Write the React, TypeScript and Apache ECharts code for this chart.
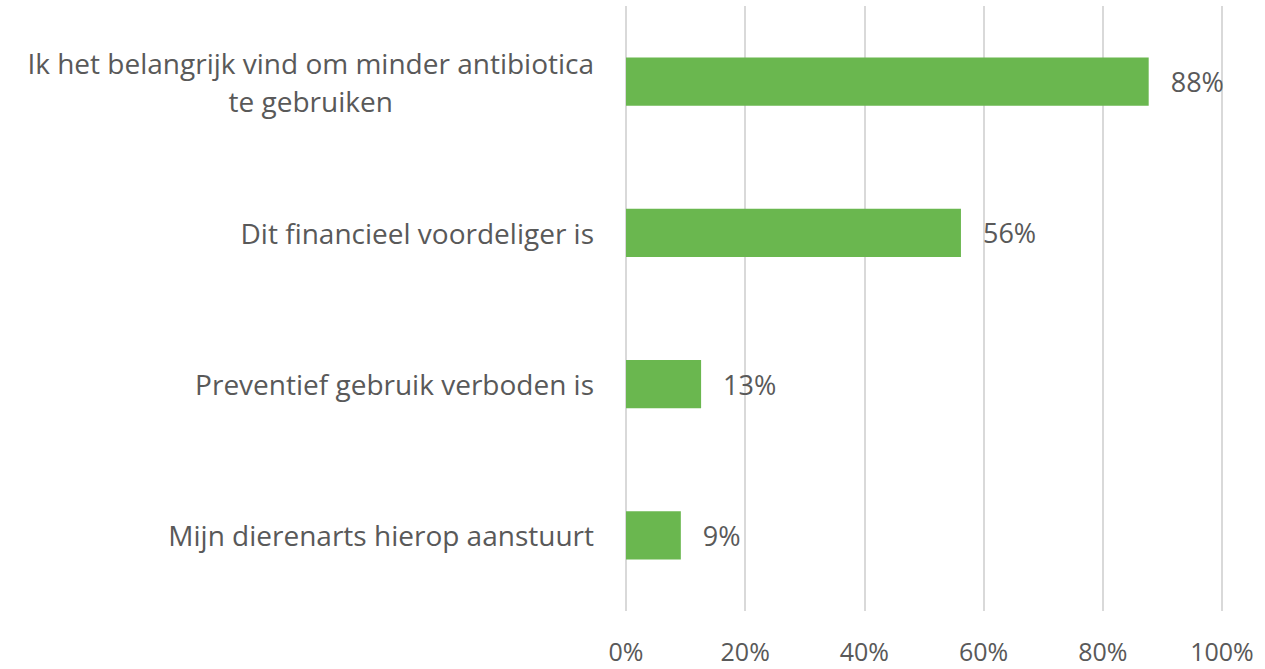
import React, { useEffect, useRef } from "react";
import * as echarts from "echarts";

const categories = [
  "Ik het belangrijk vind om minder antibiotica\nte gebruiken",
  "Dit financieel voordeliger is",
  "Preventief gebruik verboden is",
  "Mijn dierenarts hierop aanstuurt",
];
const values = [87.7, 56.2, 12.6, 9.2];
const xTicks = [0, 20, 40, 60, 80, 100];

export default function App() {
  const ref = useRef<HTMLDivElement>(null);
  useEffect(() => {
    const chart = echarts.init(ref.current!, null, { renderer: "svg" });
    const font = "'Open Sans', sans-serif";
    chart.setOption({
      animation: false,
      backgroundColor: "#ffffff",
      grid: { left: 626, right: 43, top: 6, bottom: 58, containLabel: false },
      xAxis: {
        type: "value",
        min: xTicks[0],
        max: xTicks[xTicks.length - 1],
        interval: 20,
        axisLine: { show: false },
        axisTick: { show: false },
        splitLine: { show: true, lineStyle: { color: "#d9d9d9", width: 2 } },
        axisLabel: {
          formatter: (v: number) => v + "%",
          color: "#595959",
          fontSize: 25,
          fontFamily: font,
          margin: 27,
        },
      },
      yAxis: {
        type: "category",
        data: categories,
        inverse: true,
        axisLine: { show: false },
        axisTick: { show: false },
        axisLabel: {
          color: "#595959",
          fontSize: 28,
          fontFamily: font,
          margin: 32,
          align: "right",
          lineHeight: 38,
          formatter: (v: string) =>
            v
              .split("\n")
              .map((s) => "{c|" + s + "}")
              .join("\n"),
          rich: {
            c: {
              align: "center",
              color: "#595959",
              fontSize: 28,
              fontFamily: font,
              lineHeight: 38,
            },
          },
        },
      },
      series: [
        {
          type: "bar",
          data: values,
          barWidth: "32%",
          itemStyle: { color: "#6ab74f" },
          label: {
            show: true,
            position: "right",
            distance: 22,
            formatter: (p: any) => Math.round(p.value) + "%",
            color: "#595959",
            fontSize: 27,
            fontFamily: font,
          },
        },
      ],
    });
    return () => chart.dispose();
  }, []);
  return <div ref={ref} style={{ width: 1265, height: 669, position: "absolute", left: 0, top: 0 }} />;
}
